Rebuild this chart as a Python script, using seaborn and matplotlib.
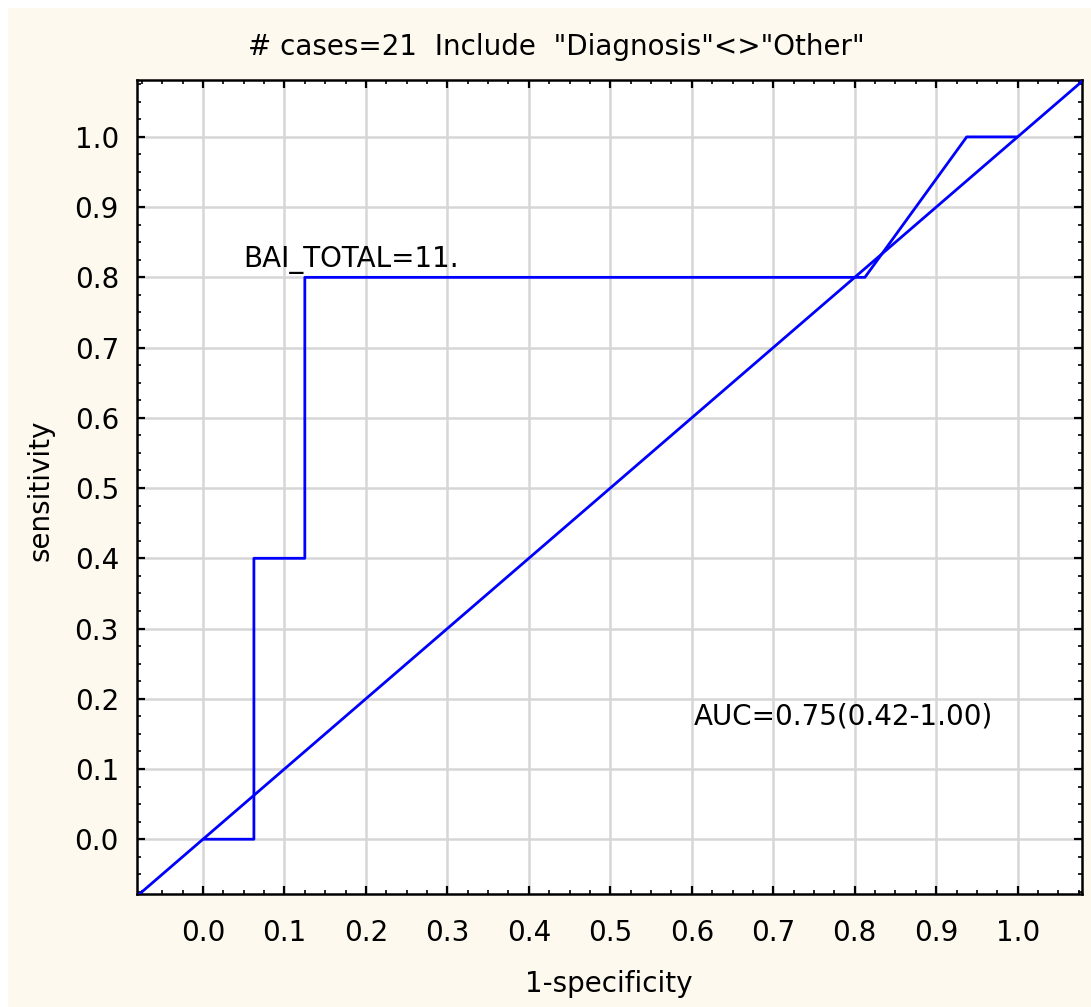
import matplotlib
matplotlib.use("Agg")
import matplotlib.pyplot as plt
from matplotlib.patches import Rectangle
from matplotlib.ticker import MultipleLocator
import seaborn as sns
import pandas as pd

# ROC curve for BAI_TOTAL (16 negatives, 5 positives)
fpr = [0.0, 0.0625, 0.0625, 0.125, 0.125, 0.8125, 0.9375, 1.0]
tpr = [0.0, 0.0, 0.4, 0.4, 0.8, 0.8, 1.0, 1.0]
ticks = [0.0, 0.1, 0.2, 0.3, 0.4, 0.5, 0.6, 0.7, 0.8, 0.9, 1.0]

title = '# cases=21  Include  "Diagnosis"<>"Other"'
cutoff_label = "BAI_TOTAL=11."
auc_label = "AUC=0.75(0.42-1.00)"

sns.set_theme(style="white")
plt.rcParams["font.family"] = ["DejaVu Sans"]
plt.rcParams["text.color"] = "black"
plt.rcParams["axes.labelcolor"] = "black"
plt.rcParams["xtick.color"] = "black"
plt.rcParams["ytick.color"] = "black"

BG = "#FDF9EF"
BLUE = "#0000FF"
FS = 20

fig = plt.figure(figsize=(10.91, 10.07), dpi=100)
fig.patch.set_facecolor("white")
fig.patches.append(Rectangle((8 / 1091, 0), 1, 1 - 8 / 1007, transform=fig.transFigure,
                             facecolor=BG, edgecolor="none", zorder=-10))

ax = fig.add_axes([137 / 1091, 1 - 894 / 1007, (1082 - 137) / 1091, (894 - 80) / 1007])
ax.set_facecolor("white")

df = pd.DataFrame({"fpr": fpr, "tpr": tpr})
sns.lineplot(data=df, x="fpr", y="tpr", sort=False, estimator=None,
             color=BLUE, linewidth=2.0, ax=ax, zorder=3)
ax.axline((0, 0), (1, 1), color=BLUE, linewidth=2.0, zorder=3)

ax.set_xlim(-0.081, 1.079)
ax.set_ylim(-0.078, 1.081)
ax.set_xticks(ticks)
ax.set_yticks(ticks)
ax.set_xticklabels([f"{t:.1f}" for t in ticks])
ax.set_yticklabels([f"{t:.1f}" for t in ticks])
ax.xaxis.set_minor_locator(MultipleLocator(0.025))
ax.yaxis.set_minor_locator(MultipleLocator(0.025))

ax.grid(True, which="major", color="#D6D6D6", linewidth=1.8)
ax.set_axisbelow(True)
for s in ax.spines.values():
    s.set_color("black")
    s.set_linewidth(1.8)

ax.tick_params(which="both", direction="in", top=True, right=True, bottom=True, left=True,
               color="black")
ax.tick_params(which="major", length=6, width=1.6, labelsize=FS)
ax.tick_params(which="minor", length=3, width=1.2)
ax.tick_params(axis="x", which="major", pad=18)
ax.tick_params(axis="y", which="major", pad=13)

ax.set_xlabel("1-specificity", fontsize=FS)
ax.set_ylabel("sensitivity", fontsize=FS)
ax.xaxis.set_label_coords((609 - 137) / (1082 - 137), -(984 - 894) / (894 - 80))
ax.yaxis.set_label_coords(-(137 - 40) / (1082 - 137), (894 - 490) / (894 - 80))
ax.xaxis.label.set_va("center")
ax.yaxis.label.set_va("center")

ax.text(0.049, 0.815, cutoff_label, fontsize=FS, ha="left", va="baseline")
ax.text(0.602, 0.164, auc_label, fontsize=FS, ha="left", va="baseline")

fig.text(556 / 1091, 1 - 47 / 1007, title, fontsize=FS, ha="center", va="center")

fig.savefig("out.png", dpi=100)
